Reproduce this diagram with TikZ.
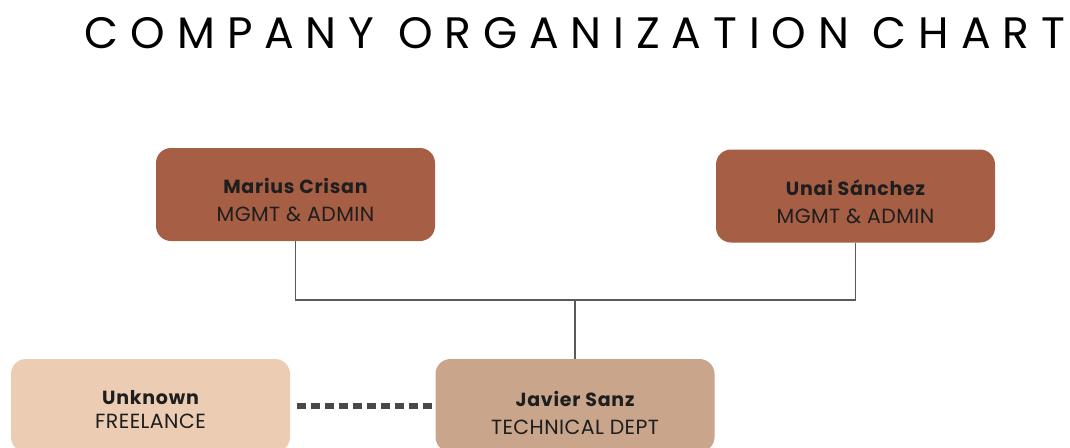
\documentclass[tikz,border=0pt]{standalone}
\usepackage{fontspec}
\setmainfont{Poppins}
\usetikzlibrary{positioning}
\definecolor{rust}{RGB}{166,94,69}
\definecolor{tan}{RGB}{201,165,139}
\definecolor{sand}{RGB}{236,205,180}
\definecolor{wire}{RGB}{90,90,90}
\definecolor{ink}{RGB}{30,30,30}
\tikzset{%
    member/.style={%
        draw=none, rounded corners=15pt,
        minimum width=279pt, minimum height=93pt,
        inner sep=0pt, outer sep=0pt
    },
    who/.style={align=center, text=ink, inner sep=0pt, font=\fontsize{19}{28}\selectfont},
    link/.style={draw=wire, line width=1.6pt},
    loose/.style={draw=wire!80!black, line width=6pt, dash pattern=on 9pt off 5pt}
}
\newcommand{\person}[2]{{\bfseries\addfontfeature{LetterSpace=4}#1}\\{\fontsize{20.5}{28}\selectfont\addfontfeature{LetterSpace=2}#2}}

\begin{document}
\begin{tikzpicture}[x=1pt,y=-1pt]
    \useasboundingbox (0,0) rectangle (1070,447);
    \node (title) at (575,33) {\fontsize{44}{48}\selectfont\addfontfeature{LetterSpace=27}COMPANY ORGANIZATION CHART};

    \node[member, fill=rust] (marius) at (295.5,194.5) {};
    \node[member, fill=rust] (unai) at (855.5,196) {};
    \node[member, fill=tan] (javier) at (575,405.5) {};
    \node[member, fill=sand] (unknown) at (150.5,405.5) {};

    \node[who] (mariusT) at ([yshift=-6pt]marius.center) {\person{Marius Crisan}{MGMT \& ADMIN}};
    \node[who] (unaiT) at ([yshift=-6pt]unai.center) {\person{Unai Sánchez}{MGMT \& ADMIN}};
    \node[who] (javierT) at ([yshift=-7pt]javier.center) {\person{Javier Sanz}{TECHNICAL DEPT}};
    \node[who, font=\fontsize{19}{24}\selectfont] (unknownT) at ([yshift=-4pt]unknown.center) {\person{Unknown}{FREELANCE}};

    \coordinate (bus) at (575,300);
    \draw[link] (marius.south) |- (bus) -| (unai.south);
    \draw[link] (bus) -- (javier.north);
    \draw[loose, shorten <=7pt] (unknown.east) -- (javier.west);
\end{tikzpicture}
\end{document}
